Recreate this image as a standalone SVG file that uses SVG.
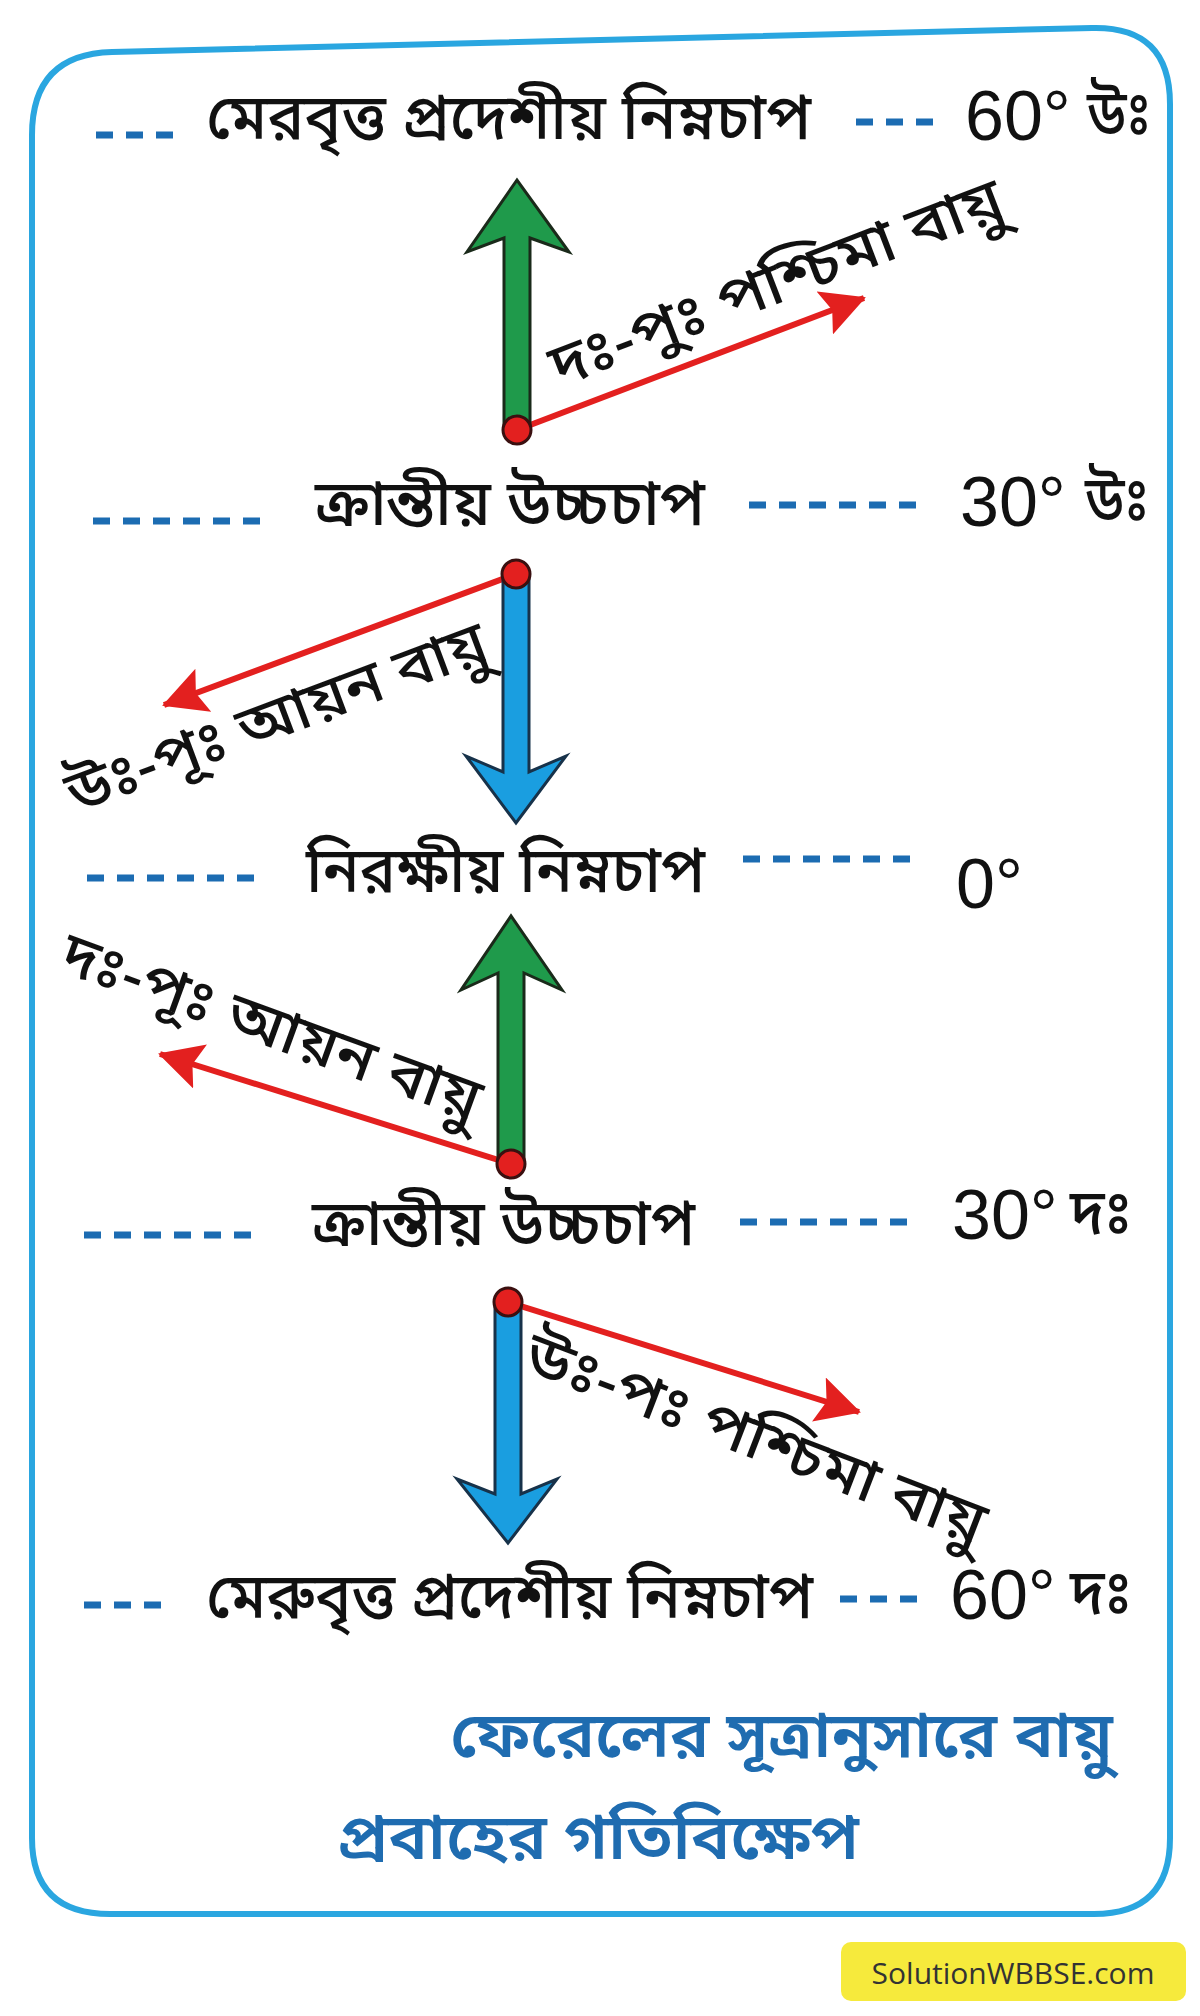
<svg xmlns="http://www.w3.org/2000/svg" width="1200" height="2016" viewBox="0 0 1200 2016">
<style>
.bn{font-family:'Noto Sans Bengali','Noto Serif Bengali','Lohit Bengali','Noto Sans',sans-serif;fill:#111;font-weight:500;}
.lbl{font-size:64px;}
.deg{font-family:'Liberation Sans',sans-serif;font-size:70px;fill:#111;}
.dg{font-size:64px;}
.wl{font-size:60px;}
.cap{font-size:64px;fill:#1f6cb0;font-weight:600;}
.dash{stroke:#1c6cb2;stroke-width:7;stroke-dasharray:17 13;fill:none;}
.red{stroke:#e3201f;stroke-width:6;fill:none;}
.shaftG{fill:#1f9a4b;stroke:#1a2a1a;stroke-width:3;}
.shaftB{fill:#1a9ee0;stroke:#17324a;stroke-width:3;}
.dot{fill:#e3201f;stroke:#3a1010;stroke-width:3;}
</style>
<defs>
<marker id="rh" viewBox="0 0 44 46" refX="42" refY="23" markerWidth="44" markerHeight="46" markerUnits="userSpaceOnUse" orient="auto">
<path d="M0,0 L44,23 L0,46 L8,23 Z" fill="#e3201f"/>
</marker>
</defs>
<rect width="1200" height="2016" fill="#ffffff"/>
<path d="M32,135 Q32,54 112,52 L1092,28 Q1170,26 1170,104 L1170,1838 Q1170,1914 1094,1914 L110,1914 Q32,1914 32,1838 Z" fill="none" stroke="#2aa6e0" stroke-width="6"/>

<g id="connectors">
<path class="red" d="M517,430 L864,298" marker-end="url(#rh)"/>
<path class="red" d="M516,574 L164,705" marker-end="url(#rh)"/>
<path class="red" d="M511,1164 L160,1054" marker-end="url(#rh)"/>
<path class="red" d="M508,1302 L859,1412" marker-end="url(#rh)"/>
</g>

<g id="arrow-up-1">
<path class="shaftG" d="M504,430 L504,238 L467,252 L517,180 L569,252 L530,238 L530,430 Z"/>
<circle class="dot" cx="517" cy="430" r="14"/>
</g>
<g id="arrow-down-1">
<path class="shaftB" d="M503,574 L503,772 L466,756 L516,823 L566,756 L529,772 L529,574 Z"/>
<circle class="dot" cx="516" cy="574" r="14"/>
</g>
<g id="arrow-up-2">
<path class="shaftG" d="M498,1164 L498,973 L461,990 L511,916 L562,990 L524,973 L524,1164 Z"/>
<circle class="dot" cx="511" cy="1164" r="14"/>
</g>
<g id="arrow-down-2">
<path class="shaftB" d="M495,1302 L495,1494 L457,1479 L508,1543 L557,1479 L521,1494 L521,1302 Z"/>
<circle class="dot" cx="508" cy="1302" r="14"/>
</g>

<g id="row-60N">
<line class="dash" x1="96" y1="135" x2="173" y2="135"/>
<text class="bn lbl" x="206" y="122" dominant-baseline="central" textLength="605" lengthAdjust="spacingAndGlyphs">মেরবৃত্ত প্রদেশীয় নিম্নচাপ</text>
<line class="dash" x1="856" y1="122" x2="933" y2="122"/>
<text class="deg" x="965" y="116" dominant-baseline="central">60°</text>
<text class="bn dg" x="1087" y="118" dominant-baseline="central" textLength="64" lengthAdjust="spacingAndGlyphs">উঃ</text>
</g>
<g id="row-30N">
<line class="dash" x1="93" y1="521" x2="270" y2="521"/>
<text class="bn lbl" x="315" y="508" dominant-baseline="central" textLength="390" lengthAdjust="spacingAndGlyphs">ক্রান্তীয় উচ্চচাপ</text>
<line class="dash" x1="749" y1="505" x2="926" y2="505"/>
<text class="deg" x="960" y="502" dominant-baseline="central">30°</text>
<text class="bn dg" x="1085" y="504" dominant-baseline="central" textLength="64" lengthAdjust="spacingAndGlyphs">উঃ</text>
</g>
<g id="row-0">
<line class="dash" x1="87" y1="878" x2="264" y2="878"/>
<text class="bn lbl" x="306" y="875" dominant-baseline="central" textLength="399" lengthAdjust="spacingAndGlyphs">নিরক্ষীয় নিম্নচাপ</text>
<line class="dash" x1="743" y1="859" x2="920" y2="859"/>
<text class="deg" x="956" y="884" dominant-baseline="central">0°</text>
</g>
<g id="row-30S">
<line class="dash" x1="84" y1="1235" x2="261" y2="1235"/>
<text class="bn lbl" x="312" y="1228" dominant-baseline="central" textLength="383" lengthAdjust="spacingAndGlyphs">ক্রান্তীয় উচ্চচাপ</text>
<line class="dash" x1="740" y1="1222" x2="917" y2="1222"/>
<text class="deg" x="952" y="1215" dominant-baseline="central">30°</text>
<text class="bn dg" x="1070" y="1217" dominant-baseline="central" textLength="62" lengthAdjust="spacingAndGlyphs">দঃ</text>
</g>
<g id="row-60S">
<line class="dash" x1="84" y1="1605" x2="161" y2="1605"/>
<text class="bn lbl" x="206" y="1601" dominant-baseline="central" textLength="607" lengthAdjust="spacingAndGlyphs">মেরুবৃত্ত প্রদেশীয় নিম্নচাপ</text>
<line class="dash" x1="840" y1="1599" x2="917" y2="1599"/>
<text class="deg" x="950" y="1595" dominant-baseline="central">60°</text>
<text class="bn dg" x="1070" y="1597" dominant-baseline="central" textLength="62" lengthAdjust="spacingAndGlyphs">দঃ</text>
</g>

<g id="wind-labels">
<text class="bn wl" transform="translate(778,287) rotate(-21)" x="-240" dominant-baseline="central" textLength="480" lengthAdjust="spacingAndGlyphs">দঃ-পুঃ পশ্চিমা বায়ু</text>
<text class="bn wl" transform="translate(278,722) rotate(-20.5)" x="-222" dominant-baseline="central" textLength="444" lengthAdjust="spacingAndGlyphs">উঃ-পূঃ আয়ন বায়ু</text>
<text class="bn wl" transform="translate(270,1031) rotate(20)" x="-221" dominant-baseline="central" textLength="442" lengthAdjust="spacingAndGlyphs">দঃ-পূঃ আয়ন বায়ু</text>
<text class="bn wl" transform="translate(755,1443) rotate(21)" x="-245" dominant-baseline="central" textLength="488" lengthAdjust="spacingAndGlyphs">উঃ-পঃ পশ্চিমা বায়ু</text>
</g>

<g id="caption">
<text class="bn cap" x="450" y="1740" dominant-baseline="central" textLength="663" lengthAdjust="spacingAndGlyphs">ফেরেলের সূত্রানুসারে বায়ু</text>
<text class="bn cap" x="337" y="1842" dominant-baseline="central" textLength="522" lengthAdjust="spacingAndGlyphs">প্রবাহের গতিবিক্ষেপ</text>
</g>

<g id="watermark">
<rect x="841" y="1942" width="345" height="59" rx="10" fill="#f6ea3c"/>
<text x="1013" y="1972" text-anchor="middle" dominant-baseline="central" font-family="'Open Sans','Liberation Sans',sans-serif" font-size="30" fill="#333">SolutionWBBSE.com</text>
</g>
</svg>
